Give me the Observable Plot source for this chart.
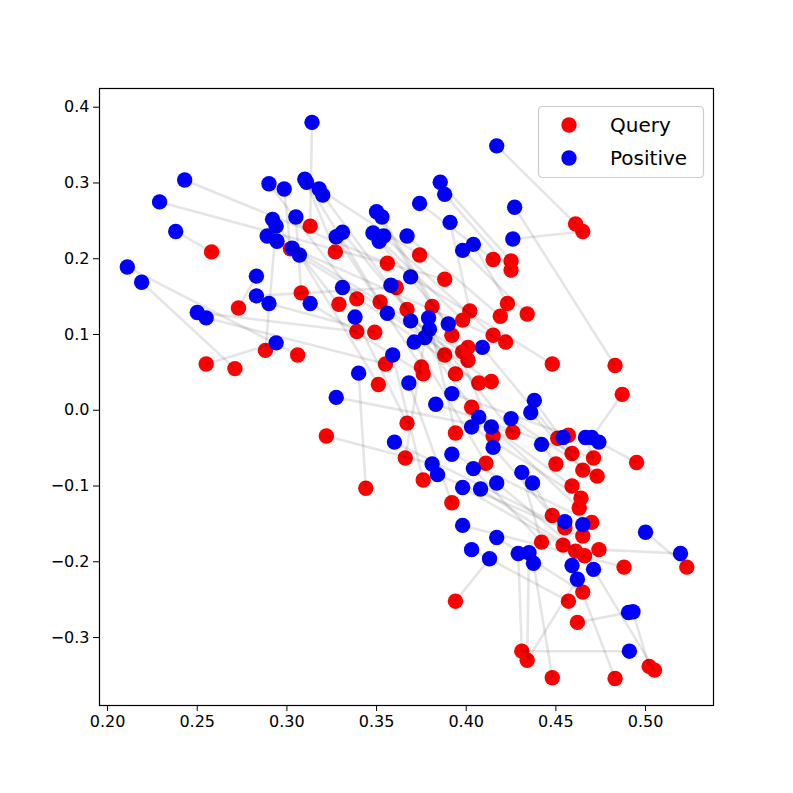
<!DOCTYPE html>
<html>
<head>
<meta charset="utf-8">
<script src="https://cdn.jsdelivr.net/npm/d3@7"></script>
<script src="https://cdn.jsdelivr.net/npm/@observablehq/plot@0.6"></script>
<style>
  body { margin: 0; background: white; }
  #wrap { position: relative; width: 793px; height: 793px; }
  #legend { position: absolute; left: 0; top: 0; pointer-events: none; }
</style>
</head>
<body>
<div id="wrap"></div>
<script>
// Query (red) points
const queryX = [
  0.461, 0.465, 0.258, 0.313, 0.327, 0.356, 0.374, 0.415, 0.425, 0.425,
  0.388, 0.361, 0.308, 0.339, 0.329, 0.352, 0.367, 0.381, 0.402, 0.423,
  0.419, 0.434, 0.398, 0.339, 0.349, 0.392, 0.415, 0.422, 0.401, 0.398,
  0.388, 0.401, 0.355, 0.375, 0.376, 0.394, 0.407, 0.414, 0.351, 0.306,
  0.302, 0.273, 0.288,
  0.255, 0.271, 0.448, 0.483, 0.487, 0.403, 0.367, 0.322, 0.394, 0.415,
  0.426, 0.366, 0.411, 0.376, 0.344, 0.392, 0.451, 0.457, 0.459, 0.471,
  0.495, 0.450, 0.465, 0.473, 0.459, 0.464, 0.463, 0.448, 0.455, 0.470,
  0.465, 0.442, 0.454, 0.461, 0.474, 0.466, 0.394, 0.488, 0.523, 0.465,
  0.457, 0.462, 0.431, 0.434, 0.448, 0.483, 0.502, 0.505
];
const queryY = [
  0.246, 0.236, 0.209, 0.243, 0.209, 0.194, 0.205, 0.199, 0.197, 0.185,
  0.173, 0.162, 0.155, 0.147, 0.140, 0.143, 0.133, 0.137, 0.131, 0.141,
  0.124, 0.127, 0.119, 0.104, 0.103, 0.099, 0.099, 0.090, 0.083, 0.077,
  0.073, 0.066, 0.061, 0.057, 0.048, 0.048, 0.036, 0.038, 0.034, 0.073,
  0.213, 0.135, 0.079,
  0.061, 0.055, 0.061, 0.059, 0.021, 0.004, -0.017, -0.034, -0.030, -0.034,
  -0.029, -0.063, -0.070, -0.092, -0.103, -0.122, -0.037, -0.033, -0.057, -0.063,
  -0.069, -0.071, -0.079, -0.087, -0.100, -0.116, -0.129, -0.139, -0.155, -0.148,
  -0.166, -0.174, -0.178, -0.186, -0.184, -0.192, -0.252, -0.207, -0.207, -0.240,
  -0.252, -0.280, -0.318, -0.330, -0.353, -0.354, -0.338, -0.343
];
// Positive (blue) points
const positiveX = [
  0.314, 0.417, 0.243, 0.229, 0.238, 0.290, 0.2985, 0.310, 0.311, 0.318,
  0.320, 0.305, 0.292, 0.294, 0.289, 0.2945, 0.303, 0.350, 0.353, 0.374,
  0.3855, 0.388, 0.391, 0.427, 0.426, 0.404, 0.398, 0.348, 0.354, 0.3515,
  0.367, 0.3275, 0.331,
  0.211, 0.219, 0.250, 0.255, 0.283, 0.283, 0.290, 0.294, 0.307, 0.313,
  0.369, 0.358, 0.331, 0.356, 0.338, 0.369, 0.379, 0.390, 0.3795, 0.377,
  0.371, 0.409, 0.359, 0.340, 0.368, 0.392, 0.3275, 0.383,
  0.438, 0.436, 0.425, 0.407, 0.403, 0.414, 0.415, 0.360, 0.392, 0.381,
  0.384, 0.404, 0.398, 0.408, 0.417, 0.398, 0.417, 0.403, 0.413, 0.442,
  0.454, 0.4665, 0.470, 0.474, 0.431, 0.437, 0.455, 0.465, 0.500, 0.5195,
  0.429, 0.435, 0.4375, 0.459, 0.471, 0.462, 0.4905, 0.493, 0.491
];
const positiveY = [
  0.380, 0.349, 0.304, 0.275, 0.236, 0.299, 0.292, 0.305, 0.301, 0.292,
  0.284, 0.255, 0.252, 0.243, 0.230, 0.223, 0.214, 0.262, 0.255, 0.273,
  0.301, 0.285, 0.248, 0.268, 0.226, 0.219, 0.211, 0.234, 0.230, 0.223,
  0.230, 0.229, 0.235,
  0.189, 0.169, 0.129, 0.122, 0.177, 0.151, 0.141, 0.089, 0.205, 0.141,
  0.176, 0.165, 0.162, 0.128, 0.123, 0.118, 0.122, 0.114, 0.107, 0.096,
  0.090, 0.083, 0.073, 0.049, 0.036, 0.022, 0.017, 0.008,
  0.013, -0.003, -0.011, -0.009, -0.022, -0.022, -0.049, -0.042, -0.058, -0.071,
  -0.085, -0.077, -0.102, -0.104, -0.096, -0.152, -0.168, -0.184, -0.196, -0.045,
  -0.036, -0.036, -0.036, -0.042, -0.082, -0.096, -0.147, -0.151, -0.161, -0.189,
  -0.189, -0.188, -0.202, -0.205, -0.210, -0.223, -0.267, -0.266, -0.318
];
// For each positive point, the index of its query point
const pairQuery = [
  3, 0, 5, 10, 2, 13, 40, 15, 4, 6,
  16, 12, 14, 42, 31, 27, 29, 17, 25, 7,
  8, 9, 18, 46, 1, 19, 21, 22, 26, 28,
  20, 33, 30, 39, 44, 23, 32, 41, 11, 24,
  43, 38, 34, 45, 35, 36, 37, 49, 48, 51,
  52, 53, 54, 55, 59, 56, 57, 58, 60, 53,
  62, 61, 65, 66, 67, 68, 69, 70, 71, 72,
  50, 73, 74, 75, 76, 78, 80, 82, 83, 79,
  64, 60, 62, 47, 63, 74, 70, 71, 73, 81,
  77, 85, 86, 87, 88, 90, 86, 84, 89, 85
];
const xTicks = [0.20, 0.25, 0.30, 0.35, 0.40, 0.45, 0.50];
const yTicks = [-0.3, -0.2, -0.1, 0.0, 0.1, 0.2, 0.3, 0.4];
const seriesNames = ["Query", "Positive"];
const seriesColors = ["#ff0000", "#0000ff"];

const qIdx = d3.range(queryX.length);
const pIdx = d3.range(positiveX.length);

const chart = Plot.plot({
  width: 793,
  height: 793,
  marginLeft: 99,
  marginRight: 80,
  marginTop: 88,
  marginBottom: 88,
  style: { fontFamily: "DejaVu Sans, sans-serif", fontSize: "16px", color: "black", background: "white" },
  x: { domain: [0.1955, 0.5379] },
  y: { domain: [-0.3897, 0.4247] },
  marks: [
    Plot.dot(qIdx, { x: i => queryX[i], y: i => queryY[i], r: 7.7, fill: seriesColors[0] }),
    Plot.dot(pIdx, { x: i => positiveX[i], y: i => positiveY[i], r: 7.7, fill: seriesColors[1] }),
    Plot.link(pIdx, {
      x1: i => queryX[pairQuery[i]], y1: i => queryY[pairQuery[i]],
      x2: i => positiveX[i], y2: i => positiveY[i],
      stroke: "black", strokeOpacity: 0.1, strokeWidth: 2.6
    }),
    Plot.axisX(xTicks, { tickFormat: d3.format(".2f"), tickSize: 6, tickPadding: 4, label: null, fontSize: 16 }),
    Plot.axisY(yTicks, { tickFormat: d3.format(".1f"), tickSize: 6, tickPadding: 4, label: null, fontSize: 16 }),
    Plot.frame({ stroke: "black", strokeWidth: 1.2 })
  ]
});
document.getElementById("wrap").appendChild(chart);

// Legend overlay (upper right, like matplotlib)
const ns = "http://www.w3.org/2000/svg";
const leg = document.createElementNS(ns, "svg");
leg.setAttribute("id", "legend");
leg.setAttribute("width", 793);
leg.setAttribute("height", 793);
const box = document.createElementNS(ns, "rect");
box.setAttribute("x", 538.5); box.setAttribute("y", 106.5);
box.setAttribute("width", 165); box.setAttribute("height", 71);
box.setAttribute("rx", 4); box.setAttribute("fill", "white"); box.setAttribute("fill-opacity", 0.8);
box.setAttribute("stroke", "#cccccc"); box.setAttribute("stroke-width", 1.2);
leg.appendChild(box);
seriesNames.forEach((name, k) => {
  const cy = 125 + k * 33;
  const c = document.createElementNS(ns, "circle");
  c.setAttribute("cx", 569); c.setAttribute("cy", cy); c.setAttribute("r", 7.7);
  c.setAttribute("fill", seriesColors[k]);
  leg.appendChild(c);
  const t = document.createElementNS(ns, "text");
  t.setAttribute("x", 610); t.setAttribute("y", cy);
  t.setAttribute("dy", "0.35em");
  t.setAttribute("font-family", "DejaVu Sans, sans-serif");
  t.setAttribute("font-size", 20);
  t.textContent = name;
  leg.appendChild(t);
});
document.getElementById("wrap").appendChild(leg);
</script>
</body>
</html>
